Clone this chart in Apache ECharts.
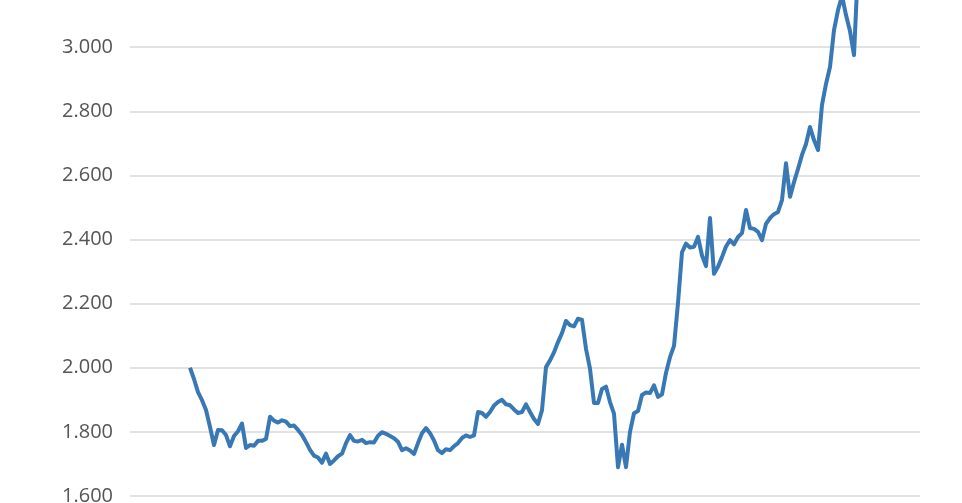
<!DOCTYPE html>
<html>
<head>
<meta charset="utf-8">
<script src="https://cdn.jsdelivr.net/npm/echarts@6/dist/echarts.min.js"></script>
<style>
html,body{margin:0;padding:0;background:#fff;}
#chart{width:962px;height:503px;}
</style>
</head>
<body>
<div id="chart"></div>
<script>
// Y axis tick values (formatted with '.' thousands separator)
const yTicks = [1600, 1800, 2000, 2200, 2400, 2600, 2800, 3000, 3200];
const values = [
  2000,1965,1924,1899,1868,1815,1759,1806,1805,1790,
  1755,1787,1802,1826,1750,1759,1757,1772,1772,1778,
  1847,1835,1829,1836,1832,1818,1820,1806,1790,1768,
  1744,1726,1720,1704,1732,1700,1711,1724,1732,1765,
  1790,1772,1770,1775,1765,1768,1767,1788,1799,1794,
  1787,1780,1769,1743,1749,1742,1731,1765,1796,1812,
  1796,1773,1743,1734,1746,1743,1755,1765,1781,1789,
  1784,1789,1862,1859,1847,1862,1882,1893,1900,1886,
  1883,1870,1859,1862,1886,1862,1840,1825,1868,2002,
  2023,2048,2080,2108,2146,2133,2129,2153,2149,2059,
  1997,1890,1890,1934,1941,1893,1857,1690,1760,1690,
  1800,1858,1865,1915,1923,1921,1945,1909,1917,1984,
  2033,2068,2202,2360,2387,2375,2377,2408,2350,2317,
  2467,2293,2315,2345,2378,2398,2385,2408,2420,2492,
  2436,2433,2424,2398,2449,2467,2479,2486,2523,2638,
  2533,2579,2620,2664,2698,2751,2710,2679,2820,2885,
  2938,3053,3115,3160,3100,3050,2975,3250
];

function fmt(v){
  const s = String(Math.round(v));
  return s.replace(/\B(?=(\d{3})+(?!\d))/g, '.');
}

const chart = echarts.init(document.getElementById('chart'), null, {renderer:'canvas'});
chart.setOption({
  animation:false,
  backgroundColor:'#ffffff',
  grid:{left:130, right:42, top:-17, bottom:7, containLabel:false, outerBoundsMode:'none'},
  xAxis:{
    type:'value', min:-15, max:values.length - 1 + 15.5, show:false
  },
  yAxis:{
    type:'value', min:yTicks[0], max:yTicks[yTicks.length-1], interval:200,
    axisLine:{show:false}, axisTick:{show:false},
    axisLabel:{
      formatter:fmt, margin:17, color:'#555555',
      fontFamily:'"Open Sans", sans-serif', fontSize:20
    },
    splitLine:{lineStyle:{color:'#e2e2e2', width:2}}
  },
  series:[{
    type:'line',
    data: values.map((v,i)=>[i,v]),
    showSymbol:false,
    lineStyle:{color:'#3778b5', width:4, join:'round'},
    itemStyle:{color:'#3778b5'}
  }]
});
</script>
</body>
</html>
